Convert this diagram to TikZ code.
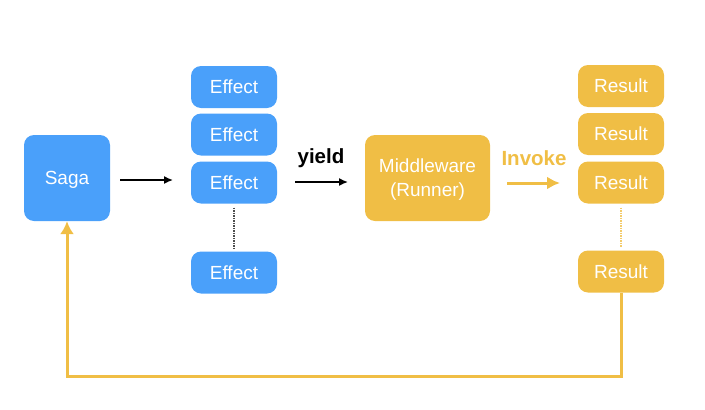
\documentclass[tikz,border=0pt]{standalone}
\usepackage{fontspec}
\setmainfont{Liberation Sans}
\usetikzlibrary{arrows.meta}

\definecolor{sagablue}{RGB}{74,160,250}
\definecolor{runyellow}{RGB}{240,190,69}

\tikzset{
  bluebox/.style={rounded corners=10pt, fill=sagablue, text=white, minimum width=86pt, minimum height=42pt, font=\fontsize{19}{24}\selectfont},
  yellowbox/.style={bluebox, fill=runyellow},
  tag/.style={font=\fontsize{20.5}{24}\selectfont\bfseries},
}

\begin{document}
\begin{tikzpicture}[x=1pt, y=-1pt, >={Latex[length=9pt,width=8pt]}]
  \useasboundingbox (0,0) rectangle (705,410);

  \node[bluebox, minimum height=86pt, text depth=0pt] (saga) at (67,178) {Saga};

  \node[bluebox] (e1) at (234,87) {Effect};
  \node[bluebox] (e2) at (234,134.5) {Effect};
  \node[bluebox] (e3) at (234,182.5) {Effect};
  \node[bluebox] (e4) at (234,272.5) {Effect};

  \node[yellowbox, minimum width=125pt, minimum height=86pt, text depth=0pt, align=center] (mw) at (427.5,178) {Middleware\\(Runner)};

  \node[yellowbox] (r1) at (621,86) {Result};
  \node[yellowbox] (r2) at (621,134) {Result};
  \node[yellowbox] (r3) at (621,182.5) {Result};
  \node[yellowbox] (r4) at (621,271.5) {Result};

  \coordinate (a1) at (120,180);
  \coordinate (a2) at (173,180);
  \draw[->, line width=1.5pt] (a1) -- (a2);

  \coordinate (y1) at (295,182);
  \coordinate (y2) at (348,182);
  \draw[->, line width=1.5pt] (y1) -- (y2);
  \node[tag] (yield) at (321,158) {yield};

  \coordinate (i1) at (507,183);
  \coordinate (i2) at (560,183);
  \draw[-{Latex[length=13pt,width=13pt]}, line width=3pt, runyellow] (i1) -- (i2);
  \node[tag, text=runyellow] (invoke) at (534,158) {Invoke};

  % dotted gaps between the stacks
  \draw[densely dotted, line width=1.5pt, black!70] ([yshift=-4pt]e3.south) -- ([yshift=3pt]e4.north);
  \draw[densely dotted, line width=1.5pt, runyellow!80] ([yshift=-4pt]r3.south) -- ([yshift=3pt]r4.north);

  % result goes back to the saga
  \draw[-{Latex[length=13pt,width=14pt]}, line width=3pt, runyellow]
    (r4.south) |- (67,376) -- (saga.south);
\end{tikzpicture}
\end{document}
